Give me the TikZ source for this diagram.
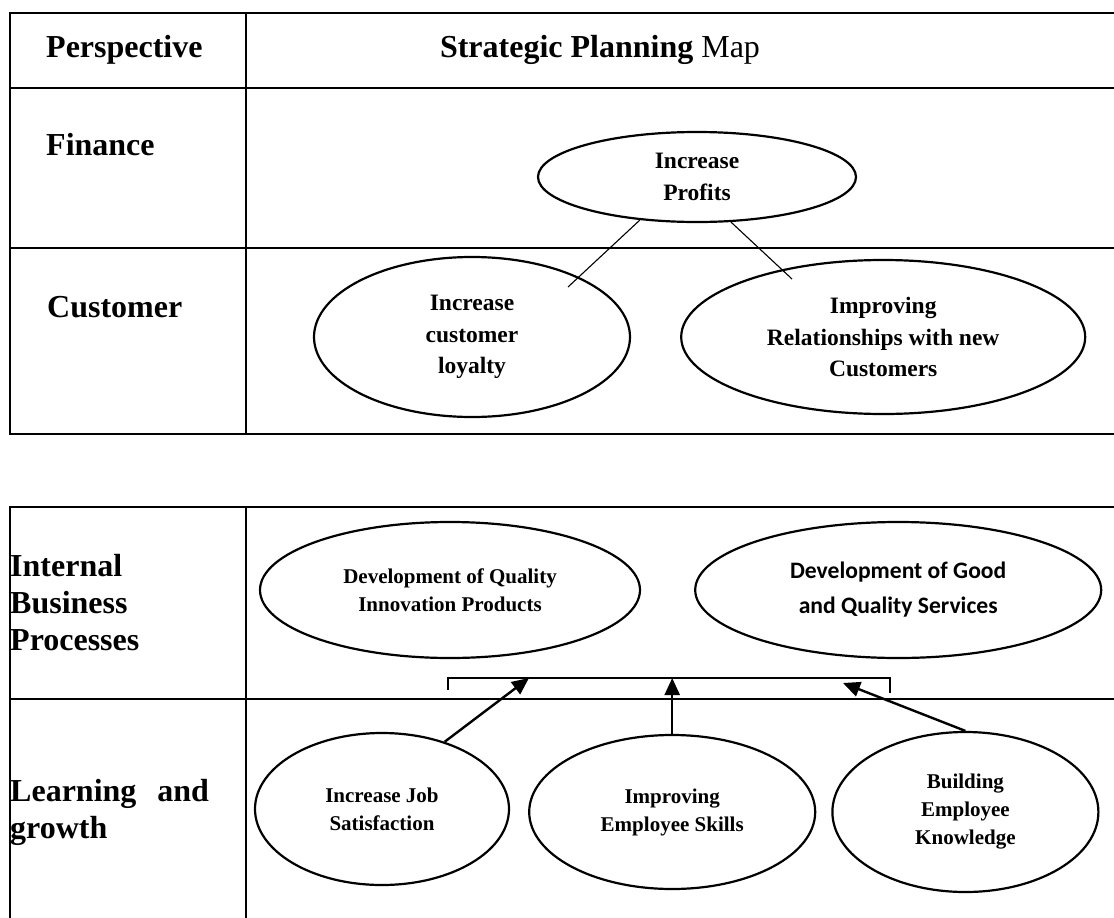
\documentclass[tikz,border=0pt]{standalone}
\usepackage{fontspec}
\setmainfont{Liberation Serif}
\newfontfamily\calibri{Carlito}
\usetikzlibrary{shapes.geometric, arrows.meta, positioning}

\tikzset{
    grid/.style={line width=2.5pt},
    rowhead/.style={anchor=west, inner sep=0pt, align=left, font=\bfseries\fontsize{32}{37}\selectfont},
    goal/.style={ellipse, draw, line width=2.2pt, inner sep=0pt, align=center, font=\bfseries\fontsize{23.5}{31.5}\selectfont},
    smallgoal/.style={goal, font=\bfseries\fontsize{21}{28}\selectfont},
}

\begin{document}
\begin{tikzpicture}[x=1pt, y=-1pt]
    \useasboundingbox (0,0) rectangle (1114,918);

    % upper table
    \draw [grid] (1114,13) -- (10,13) -- (10,434) -- (1114,434);
    \draw [grid] (10,88) -- (1114,88) (10,248) -- (1114,248) (246,13) -- (246,434);
    % lower table
    \draw [grid] (1114,507) -- (10,507) -- (10,918) (246,507) -- (246,918) (10,699) -- (1114,699);

    \node (persp) [rowhead] at (46,50) {Perspective};
    \node (title) [font=\fontsize{32}{37}\selectfont] at (600,50) {\textbf{Strategic Planning} Map};
    \node (finance) [rowhead] at (46,145) {Finance};
    \node (customer) [rowhead] at (47,307) {Customer};
    \node (internal) [rowhead] at (10,603) {Internal\\Business\\Processes};
    \node (learning) [rowhead] at (10,812) {Learning\hspace{21pt}and\\growth};

    \node (profits) [goal, minimum width=318pt, minimum height=90pt] at (697,177) {Increase\\Profits};
    \node (loyalty) [goal, minimum width=316pt, minimum height=160pt] at (472,337) {Increase\\customer\\loyalty};
    \node (relation) [goal, minimum width=404pt, minimum height=154pt, right=49pt of loyalty] {Improving\\Relationships with new\\Customers};

    \node (quality) [smallgoal, minimum width=380pt, minimum height=136pt] at (450,590) {Development of Quality\\Innovation Products};
    \node (services) [goal, font=\calibri\bfseries\fontsize{23.6}{35}\selectfont, minimum width=406pt, minimum height=136pt, right=53pt of quality] {Development of Good\\and Quality Services};

    \node (job) [smallgoal, minimum width=254pt, minimum height=152pt] at (382,809) {Increase Job\\Satisfaction};
    \node (skills) [smallgoal, minimum width=286pt, minimum height=154pt, right=18pt of job, yshift=-3pt] {Improving\\Employee Skills};
    \node (knowledge) [smallgoal, minimum width=266pt, minimum height=160pt, right=15pt of skills] {Building\\Employee\\Knowledge};

    \coordinate (toloyalty) at (568,287);
    \coordinate (torelation) at (792,279);
    \coordinate (bl) at (448,678);
    \coordinate (br) at (890,678);
    \coordinate (tipa) at (529,678);
    \coordinate (tipb) at (skills.north |- bl);
    \coordinate (tipc) at (843,683);

    \path [line width=1.1pt]
        (profits.217) edge (toloyalty)
        (profits.307) edge (torelation);

    % bracket joining the two process goals
    \draw [line width=1.2pt] ([yshift=-12pt]bl) -- (bl) -- (br) -- ([yshift=-15pt]br);

    \path [-{Triangle[length=17pt, width=15pt]}, line width=2.4pt]
        (job.47) edge (tipa)
        (skills.north) edge (tipb)
        (knowledge.north) edge (tipc);
\end{tikzpicture}
\end{document}
